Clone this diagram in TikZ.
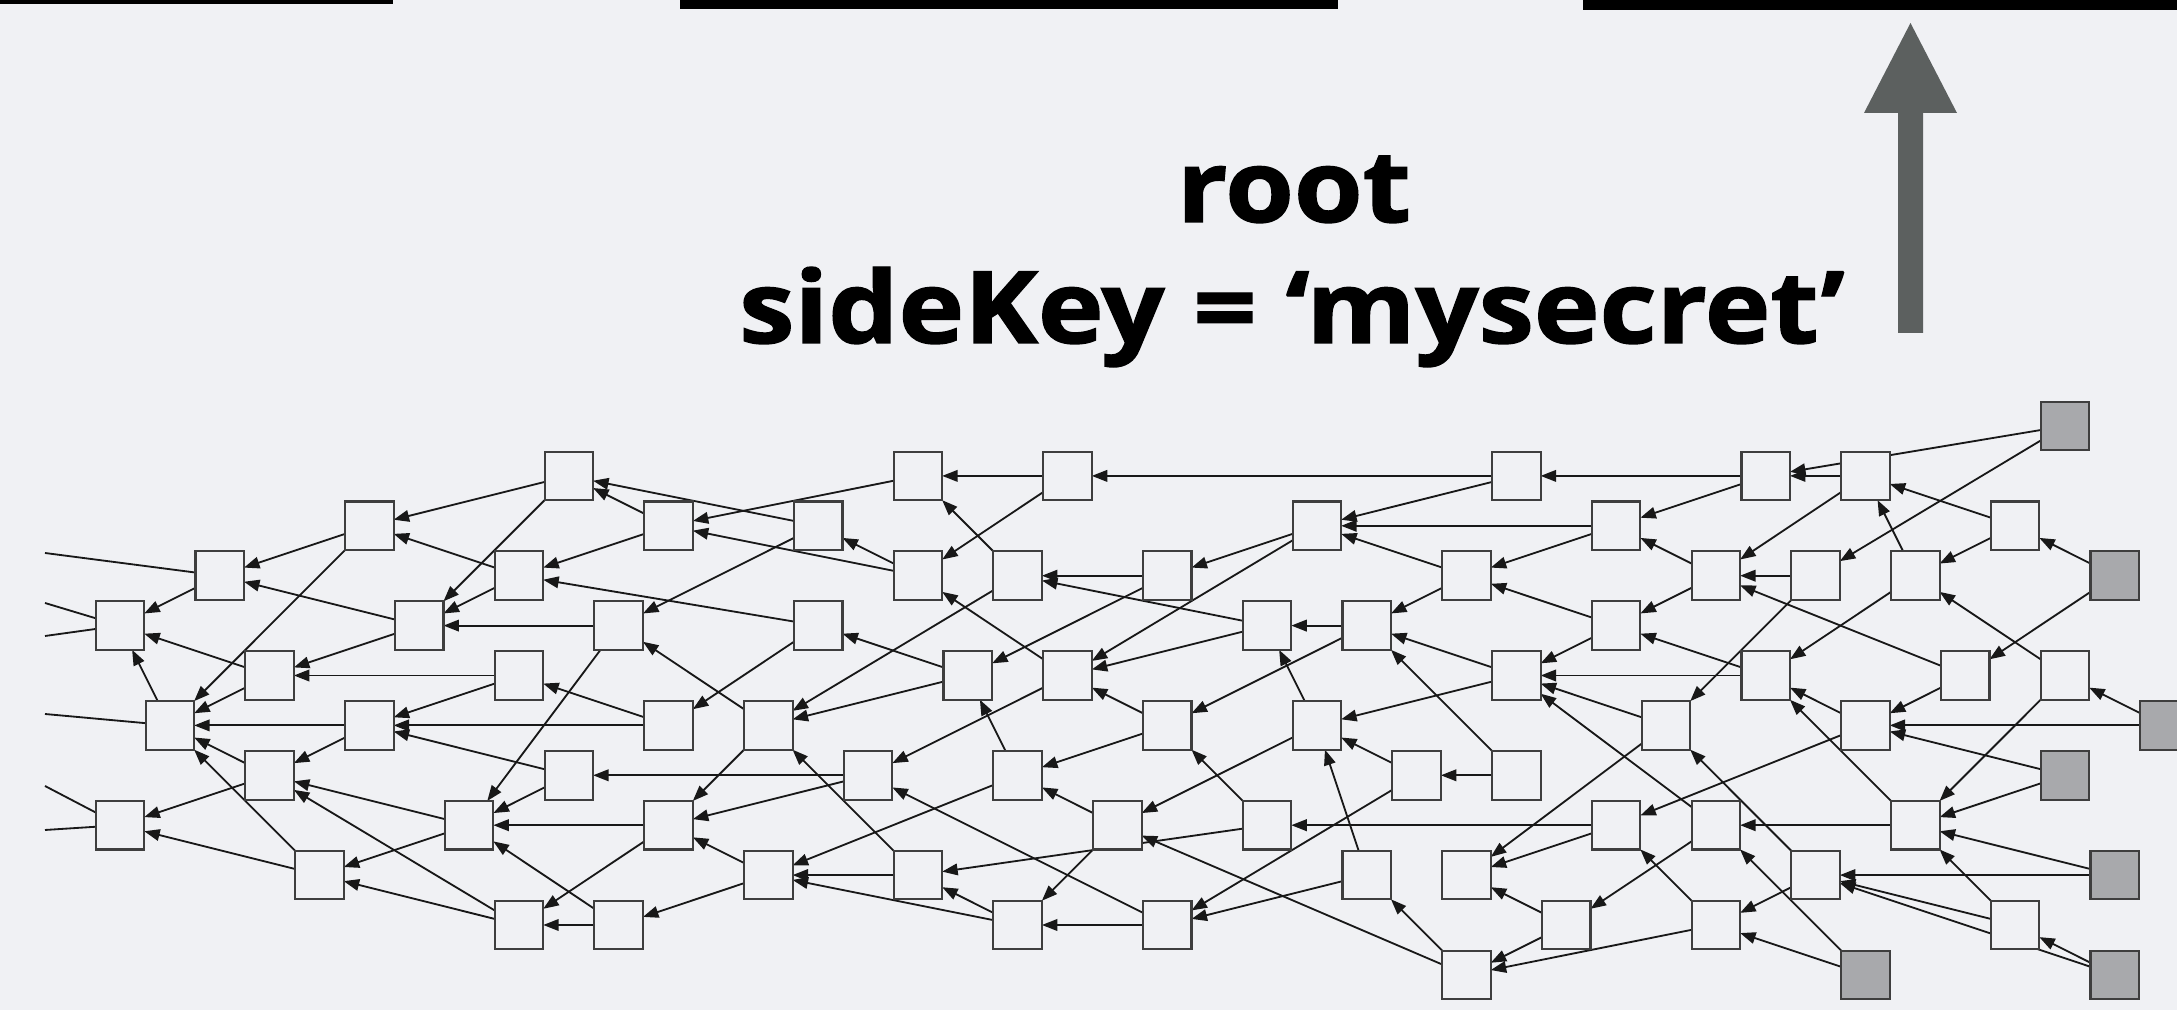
\documentclass[tikz,border=0pt]{standalone}
\usepackage{fontspec}
\newfontfamily\headfont{Open Sans}[BoldFeatures={FakeBold=1.4}]
\usetikzlibrary{arrows.meta}
\definecolor{slide}{RGB}{240,241,244}
\definecolor{boxline}{RGB}{62,62,62}
\definecolor{rootfill}{RGB}{168,169,172}
\definecolor{edgeline}{RGB}{24,24,24}
\definecolor{pointer}{RGB}{92,96,95}
\pgfdeclarelayer{back}
\pgfdeclarelayer{links}
\pgfsetlayers{back,links,main}
\begin{document}
\begin{tikzpicture}[x=0.01cm,y=-0.01cm,
  block/.style={draw=boxline, line width=0.6pt, fill=slide, minimum size=0.485cm, inner sep=0pt, outer sep=0pt},
  seed/.style={block, fill=rootfill},
  link/.style={draw=edgeline, line width=0.52pt, -{Triangle[length=4.4pt,width=3.3pt]}},
  stub/.style={draw=edgeline, line width=0.52pt},
  caption/.style={font=\headfont\bfseries\fontsize{28.45pt}{34pt}\selectfont, anchor=base, xscale=1.11, inner sep=0pt}]

\useasboundingbox (0,0) rectangle (2177,1010);
\begin{pgfonlayer}{back}
  \fill[slide] (0,0) rectangle (2177,1010);
\end{pgfonlayer}

% lower edges of the boxes above
\fill[black] (0,0) rectangle (393,4.5);
\fill[black] (680,0) rectangle (1338,9.5);
\fill[black] (1583,0) rectangle (2177,10);

% upward pointer
\fill[pointer] (1898,333) -- (1898,113) -- (1864,113) -- (1910.5,23)
  -- (1957,113) -- (1923,113) -- (1923,333) -- cycle;

% labels
\node[caption] (rootlabel) at (1294,222) {root};
\node[caption] (keylabel) at (1292,343) {sideKey = ‘mysecret’};

% hash blocks on a grid: column c, row r
\foreach \c/\r in {9/1,16/1,19/1,28/1,33/1,35/1,
                   5/2,11/2,14/2,24/2,30/2,38/2,
                   2/3,8/3,16/3,18/3,21/3,27/3,32/3,34/3,36/3,
                   0/4,6/4,10/4,14/4,23/4,25/4,30/4,
                   3/5,8/5,17/5,19/5,28/5,33/5,37/5,39/5,
                   1/6,5/6,11/6,13/6,21/6,24/6,31/6,35/6,
                   3/7,9/7,15/7,18/7,26/7,28/7,
                   0/8,7/8,11/8,20/8,23/8,30/8,32/8,36/8,
                   4/9,13/9,16/9,25/9,27/9,34/9,
                   8/10,10/10,18/10,21/10,29/10,32/10,38/10,
                   27/11}
  \node[block] (n\c-\r) at ({120+49.87*\c},{426+49.9*\r}) {};

% newest blocks
\foreach \c/\r in {39/0,40/3,41/6,39/7,40/9,35/11,40/11}
  \node[seed] (n\c-\r) at ({120+49.87*\c},{426+49.9*\r}) {};

% loose ends leaving the left edge
\coordinate (cutA) at (45,553);
\coordinate (cutB) at (45,603);
\coordinate (cutC) at (45,636);
\coordinate (cutD) at (45,714);
\coordinate (cutE) at (45,786);
\coordinate (cutF) at (45,830);

\begin{pgfonlayer}{links}
\foreach \a/\b in {39-0/33-1,39-0/34-3,35-1/33-1,35-1/32-3,33-1/28-1,33-1/30-2,
  38-2/35-1,38-2/36-3,36-3/35-1,36-3/33-5,40-3/38-2,40-3/37-5,
  34-3/32-3,34-3/31-6,32-3/30-2,32-3/30-4,37-5/32-3,37-5/35-6,
  39-5/36-3,39-5/36-8,41-6/39-5,41-6/35-6,33-5/30-4,33-5/28-5,
  35-6/33-5,35-6/30-8,36-8/33-5,36-8/32-8,39-7/35-6,39-7/36-8,
  40-9/36-8,40-9/34-9,38-10/36-8,38-10/34-9,40-11/38-10,40-11/34-9,
  35-11/32-10,35-11/32-8,34-9/31-6,34-9/32-10,32-8/28-5,32-8/29-10,
  32-10/30-8,32-10/27-11,31-6/28-5,31-6/27-9,30-8/23-8,30-8/27-9,
  29-10/27-9,29-10/27-11,27-11/25-9,27-11/20-8,30-2/24-2,30-2/27-3,
  30-4/27-3,30-4/28-5,28-1/19-1,28-1/24-2,27-3/24-2,27-3/25-4,
  28-5/25-4,28-5/24-6,28-7/26-7,28-7/25-4,25-4/23-4,25-4/21-6,
  24-2/21-3,24-2/19-5,21-3/18-3,21-3/17-5,23-4/18-3,23-4/19-5,
  26-7/24-6,26-7/21-10,25-9/24-6,25-9/21-10,24-6/20-8,24-6/23-4,
  23-8/21-6,23-8/16-9,21-6/19-5,21-6/18-7,20-8/18-7,20-8/18-10,
  21-10/15-7,21-10/18-10,18-10/13-9,18-10/16-9,18-7/17-5,18-7/13-9,
  16-9/13-6,16-9/13-9,19-5/16-3,19-5/15-7,19-1/16-1,19-1/16-3,
  18-3/16-1,18-3/13-6,17-5/14-4,17-5/13-6,16-3/14-2,16-3/11-2,
  16-1/11-2,15-7/9-7,15-7/11-8,14-2/9-1,14-2/10-4,14-4/8-3,14-4/11-6,
  13-6/10-4,13-6/11-8,13-9/11-8,13-9/10-10,11-2/9-1,11-2/8-3,
  11-6/8-5,11-6/5-6,11-8/7-8,11-8/8-10,10-4/6-4,10-4/7-8,
  10-10/8-10,10-10/7-8,9-1/5-2,9-1/6-4,9-7/7-8,9-7/5-6,
  8-3/5-2,8-3/6-4,8-5/3-5,8-5/5-6,8-10/3-7,8-10/4-9,
  7-8/3-7,7-8/4-9,6-4/2-3,6-4/3-5,5-2/2-3,5-2/1-6,
  5-6/1-6,5-6/3-7,4-9/1-6,4-9/0-8,3-7/1-6,3-7/0-8,
  3-5/0-4,3-5/1-6,2-3/0-4,1-6/0-4}
  \draw[link] (n\a) -- (n\b);
\draw[stub] (n2-3) -- (cutA);
\draw[stub] (n0-4) -- (cutB);
\draw[stub] (n0-4) -- (cutC);
\draw[stub] (n1-6) -- (cutD);
\draw[stub] (n0-8) -- (cutE);
\draw[stub] (n0-8) -- (cutF);
\end{pgfonlayer}
\end{tikzpicture}
\end{document}
